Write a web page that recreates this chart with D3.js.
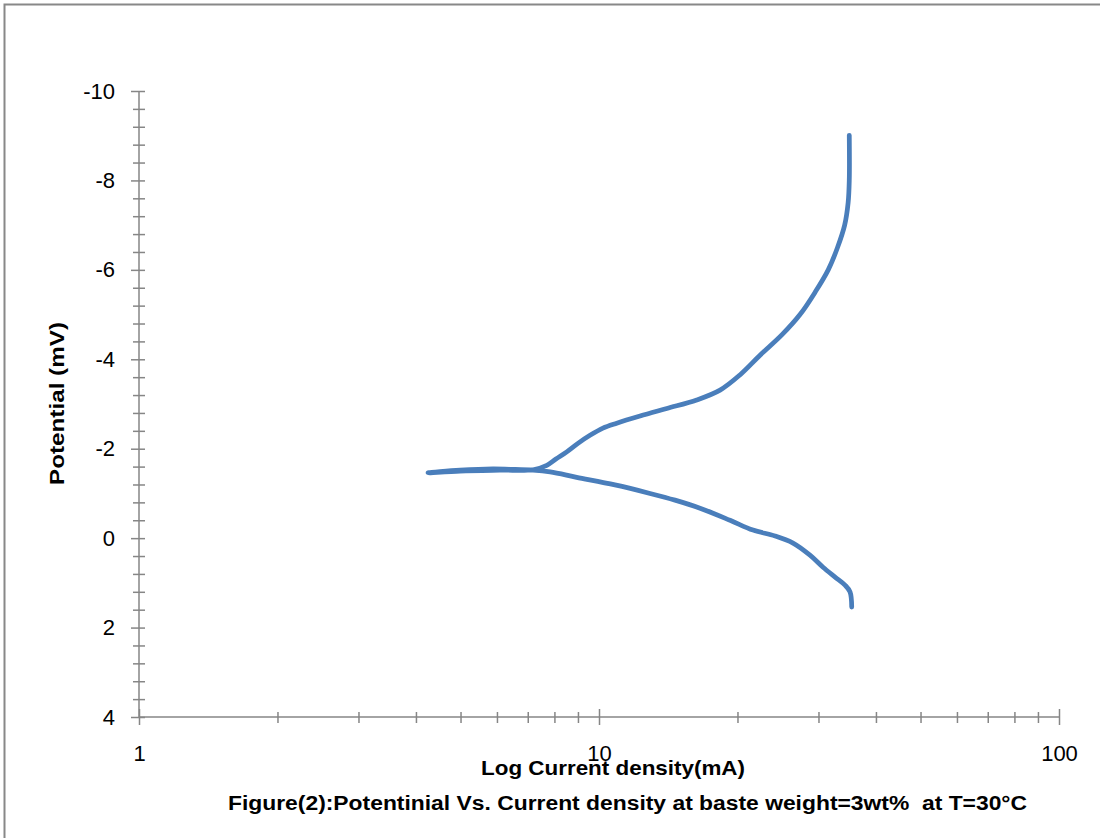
<!DOCTYPE html>
<html>
<head>
<meta charset="utf-8">
<script src="https://cdn.jsdelivr.net/npm/d3@7"></script>
<style>
  html, body { margin: 0; padding: 0; background: #fff; }
  svg { display: block; }
</style>
</head>
<body>
<svg id="chart" width="1100" height="838"></svg>
<script>
// Polarization curve: current density (mA, log axis) vs potential (mV)
const currentDensity = [
  35.43, 35.13, 34.26, 32.6, 30.69, 28.75, 26.41, 24.13, 21.62, 19.27, 16.58, 14.63, 12.91, 10.83, 8.94, 7.83, 7.19,
  6.40, 5.88, 4.99, 4.25,
  4.99, 6.09, 7.19,
  7.70, 8.06, 8.51, 9.0, 9.56, 10.2, 10.93, 12.28, 14.04, 16.31, 18.33, 20.25, 22.39, 25.0, 27.35, 29.5,
  31.5, 33.0, 34.2, 34.8, 35.0, 35.0
];
const potential = [
  1.54, 1.20, 1.05, 0.87, 0.65, 0.38, 0.11, -0.05, -0.18, -0.40, -0.67, -0.85, -1.0, -1.19, -1.36, -1.48, -1.52,
  -1.54, -1.55, -1.52, -1.46,
  -1.50, -1.52, -1.53,
  -1.63, -1.77, -1.93, -2.12, -2.30, -2.46, -2.57, -2.73, -2.90, -3.09, -3.31, -3.65, -4.09, -4.55, -5.0, -5.5,
  -6.0, -6.5, -7.0, -7.5, -8.0, -9.01
];

const xMajorTicks = [1, 10, 100];
const xMinorTicks = [2, 3, 4, 5, 6, 7, 8, 9, 20, 30, 40, 50, 60, 70, 80, 90];
const yMajorTicks = [-10, -8, -6, -4, -2, 0, 2, 4];
const yMinorTicks = d3.range(-10, 4.001, 0.4).map(v => +v.toFixed(1)).filter(v => !yMajorTicks.includes(v));

const xTitle = "Log Current density(mA)";
const yTitle = "Potential (mV)";
const caption = "Figure(2):Potentinial Vs. Current density at baste weight=3wt%\u00a0\u00a0at T=30°C";

const svg = d3.select("#chart");
const axisColor = "#868686";
const lineColor = "#4a7ebb";
const font = "'Liberation Sans', Arial, sans-serif";

// outer frame
svg.append("rect")
  .attr("x", 4.5).attr("y", 4.5)
  .attr("width", 1100).attr("height", 840)
  .attr("fill", "none").attr("stroke", "#888").attr("stroke-width", 2);

const x = d3.scaleLog().domain([1, 100]).range([139, 1059]);
const y = d3.scaleLinear().domain([-10, 4]).range([91, 717]);

function styleAxis(g, crossA, crossB, horizontal) {
  g.select(".domain").remove();
  g.selectAll(".tick line")
    .attr("stroke", axisColor).attr("stroke-width", 1.5);
  if (horizontal) {
    g.selectAll(".tick line").attr("y1", -crossA).attr("y2", crossB);
  } else {
    g.selectAll(".tick line").attr("x1", crossA).attr("x2", -crossB);
  }
  g.selectAll(".tick text")
    .attr("fill", "#000")
    .style("font-family", font)
    .style("font-size", "22px");
}

const plainNumber = d => String(d);

// y axis: minor then major ticks
svg.append("g")
  .attr("transform", `translate(${x(1)},0)`)
  .call(d3.axisLeft(y).tickValues(yMinorTicks).tickFormat("").tickSize(6))
  .call(g => styleAxis(g, 6, 6, false));
svg.append("g")
  .attr("transform", `translate(${x(1)},0)`)
  .call(d3.axisLeft(y).tickValues(yMajorTicks).tickFormat(plainNumber).tickSize(8).tickPadding(16))
  .call(g => styleAxis(g, 6, 8, false));

// x axis: minor then major ticks
svg.append("g")
  .attr("transform", `translate(0,${y(4)})`)
  .call(d3.axisBottom(x).tickValues(xMinorTicks).tickFormat("").tickSize(6))
  .call(g => styleAxis(g, 5, 6, true));
svg.append("g")
  .attr("transform", `translate(0,${y(4)})`)
  .call(d3.axisBottom(x).tickValues(xMajorTicks).tickFormat(plainNumber).tickSize(8).tickPadding(20))
  .call(g => styleAxis(g, 8, 8, true));

// axis lines
svg.append("line")
  .attr("x1", x(1)).attr("x2", x(1)).attr("y1", y(-10)).attr("y2", y(4))
  .attr("stroke", axisColor).attr("stroke-width", 1.5);
svg.append("line")
  .attr("x1", x(1)).attr("x2", x(100)).attr("y1", y(4)).attr("y2", y(4))
  .attr("stroke", axisColor).attr("stroke-width", 1.5);

// curve
const pts = currentDensity.map((c, i) => [c, potential[i]]);
svg.append("path")
  .datum(pts)
  .attr("fill", "none")
  .attr("stroke", lineColor)
  .attr("stroke-width", 4.75)
  .attr("stroke-linejoin", "round")
  .attr("stroke-linecap", "round")
  .attr("d", d3.line().x(d => x(d[0])).y(d => y(d[1])).curve(d3.curveCatmullRom.alpha(0.5)));

// titles
svg.append("text")
  .attr("x", 481).attr("y", 775)
  .attr("textLength", 264).attr("lengthAdjust", "spacingAndGlyphs")
  .style("font-family", font).style("font-size", "21px").style("font-weight", "bold")
  .text(xTitle);

svg.append("text")
  .attr("transform", "translate(64,485) rotate(-90)")
  .attr("textLength", 163).attr("lengthAdjust", "spacingAndGlyphs")
  .style("font-family", font).style("font-size", "21px").style("font-weight", "bold")
  .text(yTitle);

svg.append("text")
  .attr("x", 228).attr("y", 810)
  .attr("textLength", 799).attr("lengthAdjust", "spacingAndGlyphs")
  .style("font-family", font).style("font-size", "20px").style("font-weight", "bold")
  .text(caption);
</script>
</body>
</html>
